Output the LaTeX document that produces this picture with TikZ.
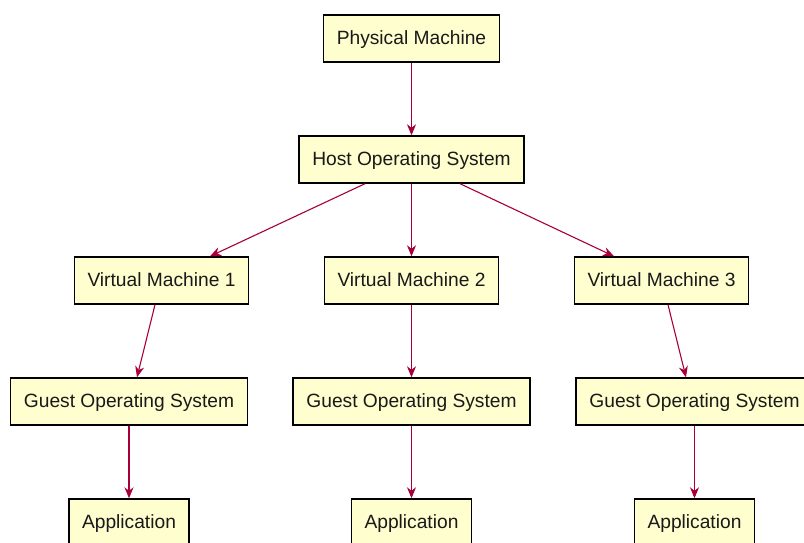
\documentclass[tikz,border=0pt]{standalone}
\usepackage{fontspec}
\setmainfont{Liberation Sans}
\usetikzlibrary{arrows.meta}
\definecolor{boxfill}{HTML}{FEFECE}
\definecolor{linkred}{HTML}{A80036}
\tikzset{
  box/.style={draw=black, line width=1.4pt, fill=boxfill, inner xsep=13.2pt,
    minimum height=47pt, text height=14pt, text depth=3pt,
    font=\fontsize{19.2}{22}\selectfont, text=black!90},
  link/.style={draw=linkred, line width=1.1pt,
    -{Stealth[length=11pt, width=9pt, inset=3.5pt]}}
}
\begin{document}
\begin{tikzpicture}[x=1pt, y=-1pt]
  \useasboundingbox (0,0) rectangle (804,542);
  \clip (0,0) rectangle (804,542);
  % layers of the virtualisation stack
  \node[box] (pm)   at (411.5,38.5)  {Physical Machine};
  \node[box] (host) at (411.5,159.5) {Host Operating System};
  \node[box] (vm1)  at (161.5,280.5) {Virtual Machine 1};
  \node[box] (vm2)  at (411.5,280.5) {Virtual Machine 2};
  \node[box] (vm3)  at (661.5,280.5) {Virtual Machine 3};
  \node[box] (g1)   at (129,401.5)   {Guest Operating System};
  \node[box] (g2)   at (411.5,401.5) {Guest Operating System};
  \node[box] (g3)   at (694.5,401.5) {Guest Operating System};
  \node[box] (a1)   at (129,522.5)   {Application};
  \node[box] (a2)   at (411.5,522.5) {Application};
  \node[box] (a3)   at (694.5,522.5) {Application};
  % connectors
  \draw[link] (pm) -- (host);
  \draw[link] ([xshift=-46.5pt]host.south) -- ([xshift=48.5pt]vm1.north);
  \draw[link] (host) -- (vm2);
  \draw[link] ([xshift=48.5pt]host.south) -- ([xshift=-47.5pt]vm3.north);
  \draw[link] ([xshift=-6.5pt]vm1.south) -- ([xshift=8pt]g1.north);
  \draw[link] (vm2) -- (g2);
  \draw[link] ([xshift=6.5pt]vm3.south) -- ([xshift=-8.5pt]g3.north);
  \draw[link] (g1) -- (a1);
  \draw[link] (g2) -- (a2);
  \draw[link] (g3) -- (a3);
\end{tikzpicture}
\end{document}
